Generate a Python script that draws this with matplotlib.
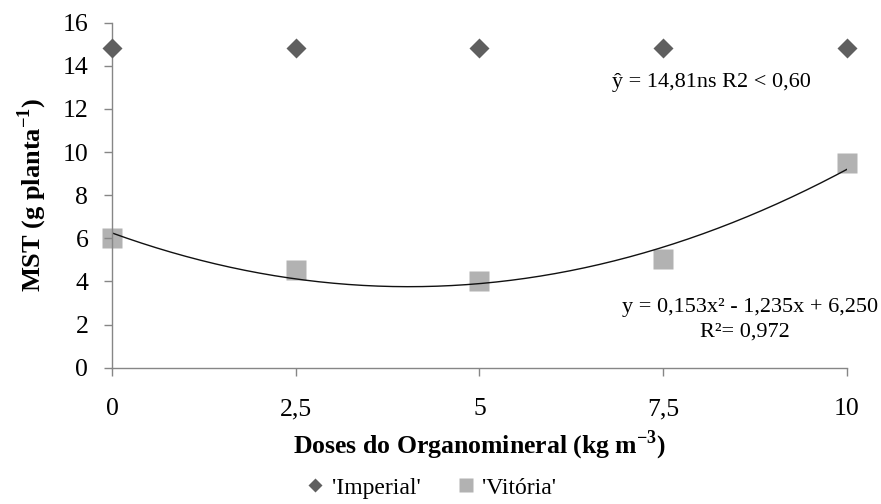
import numpy as np
import matplotlib
matplotlib.use("Agg")
import matplotlib.pyplot as plt

doses = [0, 2.5, 5, 7.5, 10]
imperial = [14.81, 14.81, 14.81, 14.81, 14.81]
vitoria = [6.0, 4.55, 4.0, 5.05, 9.5]
fit_coef = [0.153, -1.235, 6.250]  # quadratic trend from the chart's equation
xtick_labels = ["0", "2,5", "5", "7,5", "10"]
yticks = [0, 2, 4, 6, 8, 10, 12, 14, 16]

plt.rcParams['font.family'] = ['Liberation Serif', 'DejaVu Serif']

fig = plt.figure(figsize=(8.81, 5.04), dpi=100)
ax = fig.add_axes([0.1271, 0.2704, 0.8343, 0.6846])

axcol = '#868686'
xs = np.linspace(0, 10, 200)
ax.plot(xs, np.polyval(fit_coef, xs), color='#111111', lw=1.0, zorder=2)
ax.plot(doses, imperial, linestyle='none', marker='D', ms=10.2, color='#5f5f5f',
        mec='none', label="'Imperial'", zorder=3, clip_on=False)
ax.plot(doses, vitoria, linestyle='none', marker='s', ms=14, color='#b2b2b2',
        mec='none', label="'Vitória'", zorder=1, clip_on=False)

ax.set_xlim(0, 10)
ax.set_ylim(0, 16)
ax.set_xticks(doses)
ax.set_xticklabels(xtick_labels)
ax.set_yticks(yticks)
for s in ['top', 'right']:
    ax.spines[s].set_visible(False)
for s in ['left', 'bottom']:
    ax.spines[s].set_color(axcol)
    ax.spines[s].set_linewidth(1.0)
ax.tick_params(axis='both', colors=axcol, length=6, width=1.0, labelcolor='black',
               labelsize=18.5)
ax.tick_params(axis='x', pad=16)
ax.tick_params(axis='y', pad=11)

ax.set_ylabel('MST (g planta$^{\\mathregular{-1}}$)', fontsize=19, fontweight='bold', labelpad=10)
ax.set_xlabel('Doses do Organomineral (kg m$^{\\mathregular{-3}}$)', fontsize=18.5,
              fontweight='bold', labelpad=6)

ax.text(0.807, 0.837, 'ŷ = 14,81ns R2 < 0,60', transform=fig.transFigure, fontsize=16,
        ha='center', va='center')
ax.text(0.851, 0.389, 'y = 0,153x² - 1,235x + 6,250', transform=fig.transFigure, fontsize=16,
        ha='center', va='center')
ax.text(0.845, 0.341, 'R²= 0,972', transform=fig.transFigure, fontsize=16,
        ha='center', va='center')

leg = fig.legend(loc='center', bbox_to_anchor=(0.488, 0.032), ncol=2, frameon=False,
                 fontsize=17, handletextpad=0.2, columnspacing=1.4, markerscale=0.7,
                 handlelength=1.0)

fig.savefig('out.png', dpi=100)
